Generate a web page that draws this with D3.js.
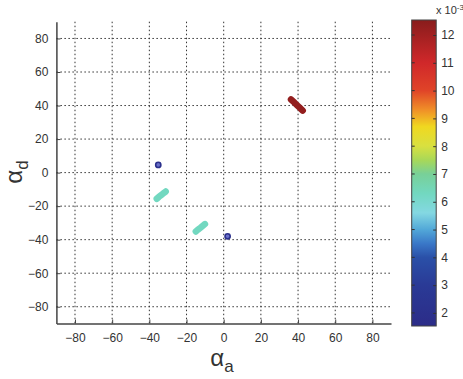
<!DOCTYPE html>
<html>
<head>
  <meta charset='utf-8'>
  <script src="https://cdn.jsdelivr.net/npm/d3@7/dist/d3.min.js"></script>
  <style>
    body { margin: 0; background: #fff; }
    text { font-family: "Liberation Sans", Arial, sans-serif; fill: #333; }
  </style>
</head>
<body>
<script>
  // cluster points (alpha_a, alpha_d, value x 1e-3)
  let ptGroup = [0, 1,
    2, 2, 2, 2, 2,
    3, 3, 3, 3, 3,
    4, 4, 4, 4, 4]
  let ptA = [-35.2, 2.1,
    -36.0, -34.8, -33.5, -32.3, -31.2,
    -15.0, -13.8, -12.5, -11.2, -10.1,
    36.2, 37.8, 39.4, 41.0, 42.5]
  let ptD = [4.6, -38.0,
    -15.6, -14.4, -13.3, -12.2, -11.3,
    -35.1, -34.0, -32.9, -31.7, -30.7,
    43.6, 42.0, 40.2, 38.6, 37.0]
  let ptV = [2.0, 2.0,
    6.3, 6.3, 6.3, 6.3, 6.3,
    6.3, 6.3, 6.3, 6.3, 6.3,
    12.3, 12.3, 12.3, 12.3, 12.3]

  let axisTicks = [-80, -60, -40, -20, 0, 20, 40, 60, 80]
  let cbarTicks = [2, 3, 4, 5, 6, 7, 8, 9, 10, 11, 12]
  let cbarDomain = [1.53, 12.54]
  // colour map as it looks in the print (value -> colour)
  let cmapVals = [1.53, 3, 4, 4.5, 5, 5.6, 6.3, 7, 7.5, 8, 8.7, 9.3, 10, 11, 12.54]
  let cmapCols = ['#2c2c88', '#2a3a96', '#2a50a8', '#3a78c8', '#52a8d8', '#84d8e2', '#72d8c0',
    '#78d098', '#a8d858', '#d8e040', '#f0d820', '#f09028', '#e04428', '#d0282a', '#881c1c']

  let w = 463, h = 379
  let svg = d3.select('body').append('svg').attr('width', w).attr('height', h)

  let x = d3.scaleLinear().domain([-90, 90]).range([56.4, 391])
  let y = d3.scaleLinear().domain([-90, 90]).range([323.5, 21.7])
  let color = d3.scaleLinear().domain(cmapVals).range(cmapCols)

  // grid
  let grid = svg.append('g')
  grid.selectAll('.gx').data(axisTicks).enter().append('line')
    .attr('x1', d => x(d)).attr('x2', d => x(d))
    .attr('y1', y(90)).attr('y2', y(-90))
    .attr('stroke', '#333').attr('stroke-width', 1).attr('stroke-dasharray', '1.5,2.5')
  grid.selectAll('.gy').data(axisTicks).enter().append('line')
    .attr('y1', d => y(d)).attr('y2', d => y(d))
    .attr('x1', x(-90)).attr('x2', x(90))
    .attr('stroke', '#333').attr('stroke-width', 1).attr('stroke-dasharray', '1.5,2.5')

  // axes (MATLAB style, ticks inward)
  let xAxis = d3.axisBottom(x).tickValues(axisTicks).tickSizeInner(-4).tickSizeOuter(0).tickPadding(10)
  svg.append('g').attr('transform', 'translate(0,' + y(-90) + ')').call(xAxis)
  let yAxis = d3.axisLeft(y).tickValues(axisTicks).tickSizeInner(-4).tickSizeOuter(0).tickPadding(8)
  svg.append('g').attr('transform', 'translate(' + x(-90) + ',0)').call(yAxis)
  svg.selectAll('.domain').attr('stroke', '#444').attr('stroke-width', 1.5)
  svg.selectAll('.tick line').attr('stroke', '#444')
  svg.selectAll('.tick text').style('font-size', '12px').attr('fill', '#444')

  // points: streak clusters drawn as thick round-capped strokes through their points
  let pts = d3.range(ptA.length).map(i => ({ g: ptGroup[i], a: ptA[i], d: ptD[i], v: ptV[i] }))
  let groups = d3.groups(pts, p => p.g)
  let line = d3.line().x(p => x(p.a)).y(p => y(p.d))
  svg.append('g').selectAll('path').data(groups.filter(g => g[1].length > 1)).enter().append('path')
    .attr('d', g => line(g[1]))
    .attr('fill', 'none')
    .attr('stroke', g => color(d3.mean(g[1], p => p.v)))
    .attr('stroke-width', 6.5)
    .attr('stroke-linecap', 'round')
  svg.append('g').selectAll('circle').data(pts.filter(p => p.v <= 3)).enter().append('circle')
    .attr('cx', d => x(d.a)).attr('cy', d => y(d.d)).attr('r', 2.6)
    .attr('fill', '#6a70c8').attr('stroke', color(2)).attr('stroke-width', 1.6)

  // axis labels
  let xl = svg.append('text').attr('x', 222).attr('y', 366).attr('text-anchor', 'middle')
    .style('font-size', '24px').attr('fill', '#222')
  xl.append('tspan').text('α')
  xl.append('tspan').attr('dy', 6).style('font-size', '17px').text('a')
  let yl = svg.append('text').attr('transform', 'translate(22,172) rotate(-90)')
    .attr('text-anchor', 'middle').style('font-size', '24px').attr('fill', '#222')
  yl.append('tspan').text('α')
  yl.append('tspan').attr('dy', 6).style('font-size', '17px').text('d')

  // colorbar
  let cb = d3.scaleLinear().domain(cbarDomain).range([326, 20])
  let defs = svg.append('defs')
  let grad = defs.append('linearGradient').attr('id', 'cmap')
    .attr('x1', 0).attr('x2', 0).attr('y1', 1).attr('y2', 0)
  grad.selectAll('stop').data(cmapVals).enter().append('stop')
    .attr('offset', d => (d - cbarDomain[0]) / (cbarDomain[1] - cbarDomain[0]))
    .attr('stop-color', (d, i) => cmapCols[i])
  let cbx = 411.7, cbw = 24.5
  svg.append('rect').attr('x', cbx).attr('y', cb(cbarDomain[1])).attr('width', cbw)
    .attr('height', cb(cbarDomain[0]) - cb(cbarDomain[1]))
    .attr('fill', 'url(#cmap)').attr('stroke', '#444').attr('stroke-width', 1)
  let cAxis = d3.axisRight(cb).tickValues(cbarTicks).tickSizeInner(-3).tickSizeOuter(0).tickPadding(5)
  let gc = svg.append('g').attr('transform', 'translate(' + (cbx + cbw) + ',0)').call(cAxis)
  gc.select('.domain').remove()
  gc.selectAll('.tick line').attr('stroke', '#333')
  gc.selectAll('.tick text').style('font-size', '12px').attr('fill', '#444')
  svg.append('g').selectAll('line').data(cbarTicks).enter().append('line')
    .attr('x1', cbx).attr('x2', cbx + 3).attr('y1', d => cb(d)).attr('y2', d => cb(d))
    .attr('stroke', '#333')
  let ex = svg.append('text').attr('x', 436).attr('y', 14).style('font-size', '11px').attr('fill', '#444')
  ex.append('tspan').text('x 10')
  ex.append('tspan').attr('dy', -4).style('font-size', '8px').text('-3')
</script>
</body>
</html>
